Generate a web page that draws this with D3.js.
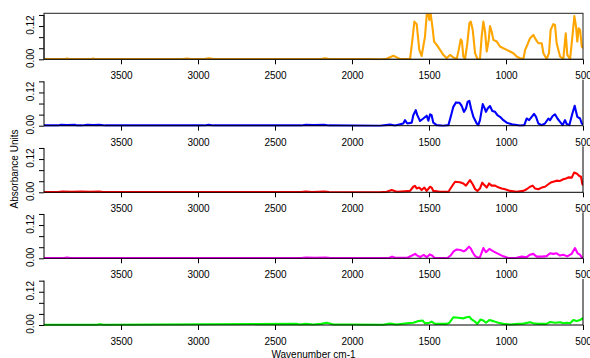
<!DOCTYPE html>
<html lang="en">
<head>
<meta charset="UTF-8">
<title>Absorbance spectra</title>
<script src="https://d3js.org/d3.v7.min.js"></script>
<style>
  body { margin: 0; background: #fff; }
  svg { display: block; font-family: "Liberation Sans", Arial, sans-serif; }
  .tick text { font-size: 10px; fill: #000; }
</style>
</head>
<body>
<svg width="590" height="358"></svg>
<script>
// tick values / labels
const xTicks = [3500, 3000, 2500, 2000, 1500, 1000, 500];
const yTicks = [0, 0.04, 0.08, 0.12, 0.16];
const yLabelled = [0, 0.12];
const colors = ["#ffa500", "#0000ff", "#ff0000", "#ff00ff", "#00ff00"];

// spectra: [wavenumber cm-1, absorbance]
const sample1 = [
  [4000, 0.001], [3860, 0.001], [3850, 0.003], [3840, 0.001], [3690, 0.001], [3680, 0.003], [3670, 0.001],
  [3100, 0.001], [3071, 0.003], [3050, 0.001], [2960, 0.001], [2930, 0.004], [2900, 0.001],
  [2200, 0.001], [2175, 0.004], [2150, 0.001], [1900, 0.001], [1818, 0], [1775, 0.002],
  [1731, 0.013], [1710, 0.007], [1688, 0.001], [1623, 0.001], [1608, 0.07], [1595, 0.136],
  [1580, 0.127], [1563, 0.034], [1548, 0.012], [1526, 0.082], [1515, 0.16], [1504, 0.163],
  [1498, 0.142], [1489, 0.163], [1478, 0.118], [1467, 0.064], [1450, 0.052], [1428, 0.034],
  [1407, 0.016], [1385, 0.004], [1364, 0.016], [1342, 0.007], [1320, 0.001], [1307, 0.034],
  [1294, 0.072], [1286, 0.064], [1277, 0.01], [1266, 0.001], [1251, 0.058], [1238, 0.13],
  [1229, 0.136], [1216, 0.106], [1201, 0.022], [1186, 0.002], [1169, 0.001], [1158, 0.082],
  [1147, 0.136], [1136, 0.1], [1125, 0.028], [1112, 0.07], [1104, 0.12], [1093, 0.1],
  [1082, 0.07], [1060, 0.064], [1039, 0.046], [1017, 0.04], [995, 0.034], [974, 0.028],
  [952, 0.022], [931, 0.01], [909, 0.004], [887, 0.001], [876, 0.034], [866, 0.046],
  [844, 0.076], [822, 0.088], [805, 0.07], [790, 0.058], [768, 0.058], [757, 0.022],
  [736, 0.001], [721, 0.022], [710, 0.106], [693, 0.127], [682, 0.124], [671, 0.058],
  [649, 0.01], [628, 0.001], [612, 0.094], [602, 0.016], [584, 0.001], [569, 0.082],
  [556, 0.156], [545, 0.118], [537, 0.064], [528, 0.112], [519, 0.106], [508, 0.046], [498, 0.04]
];
const sample2 = [
  [4000, 0.001], [3910, 0.001], [3890, 0.003], [3850, 0.002], [3800, 0.003], [3786, 0.001],
  [3753, 0.001], [3720, 0.003], [3680, 0.002], [3640, 0.003], [3604, 0.001], [2960, 0.001],
  [2930, 0.003], [2900, 0.001], [2330, 0.001], [2300, 0.003], [2250, 0.002], [2180, 0.003],
  [2150, 0.001], [1818, 0], [1753, 0.004], [1720, 0.001], [1667, 0.008], [1656, 0.02],
  [1641, 0.008], [1612, 0.011], [1602, 0.038], [1586, 0.056], [1576, 0.038], [1558, 0.017],
  [1537, 0.026], [1515, 0.036], [1504, 0.018], [1493, 0.041], [1483, 0.038], [1472, 0.011],
  [1450, 0.002], [1407, 0], [1374, 0.002], [1359, 0.032], [1342, 0.068], [1325, 0.084],
  [1303, 0.083], [1288, 0.072], [1273, 0.05], [1260, 0.062], [1249, 0.086], [1238, 0.09],
  [1227, 0.062], [1212, 0.032], [1190, 0.008], [1180, 0.002], [1169, 0.02], [1151, 0.078],
  [1141, 0.066], [1130, 0.05], [1119, 0.062], [1104, 0.071], [1089, 0.053], [1071, 0.05],
  [1056, 0.038], [1039, 0.032], [1017, 0.02], [995, 0.011], [963, 0.005], [909, 0.001],
  [881, 0.002], [866, 0.026], [850, 0.02], [833, 0.032], [818, 0.043], [805, 0.032],
  [790, 0.008], [768, 0.002], [747, 0.008], [725, 0.026], [714, 0.02], [697, 0.035],
  [682, 0.041], [666, 0.026], [649, 0.014], [632, 0.002], [617, 0.02], [606, 0.006],
  [589, 0.002], [569, 0.044], [554, 0.072], [545, 0.05], [537, 0.032], [519, 0.026],
  [508, 0.008], [498, 0.005]
];
const sample3 = [
  [4000, 0.001], [3910, 0.001], [3880, 0.003], [3820, 0.002], [3760, 0.003], [3700, 0.002],
  [3640, 0.003], [3617, 0.001], [2330, 0.001], [2300, 0.003], [2260, 0.001], [2180, 0.003],
  [2150, 0.001], [1818, 0], [1775, 0.002], [1742, 0.008], [1710, 0.002], [1656, 0.004],
  [1623, 0.005], [1602, 0.02], [1591, 0.023], [1580, 0.014], [1563, 0.017], [1548, 0.008],
  [1530, 0.017], [1515, 0.005], [1493, 0.02], [1483, 0.017], [1472, 0.005], [1428, 0.002],
  [1374, 0.002], [1353, 0.02], [1331, 0.038], [1299, 0.036], [1277, 0.032], [1260, 0.024],
  [1234, 0.044], [1216, 0.029], [1201, 0.012], [1186, 0.005], [1169, 0.014], [1154, 0.035],
  [1141, 0.026], [1125, 0.017], [1110, 0.032], [1093, 0.024], [1071, 0.024], [1050, 0.018],
  [1028, 0.014], [1006, 0.011], [974, 0.005], [931, 0.002], [887, 0.005], [866, 0.011],
  [844, 0.02], [827, 0.024], [812, 0.014], [790, 0.011], [768, 0.017], [747, 0.02],
  [725, 0.029], [710, 0.035], [693, 0.038], [671, 0.042], [649, 0.041], [628, 0.047],
  [610, 0.05], [595, 0.054], [573, 0.053], [558, 0.071], [541, 0.068], [524, 0.059],
  [513, 0.056], [504, 0.029], [498, 0.026]
];
const sample4 = [
  [4000, 0.001], [3870, 0.001], [3850, 0.003], [3830, 0.001], [2330, 0.001], [2300, 0.003],
  [2240, 0.002], [2170, 0.003], [2140, 0.001], [1800, 0.001], [1760, 0.001], [1740, 0.006],
  [1720, 0.002], [1640, 0.002], [1610, 0.01], [1590, 0.016], [1575, 0.009], [1555, 0.005],
  [1535, 0.012], [1515, 0.004], [1495, 0.014], [1480, 0.01], [1465, 0.002], [1380, 0.001],
  [1360, 0.01], [1340, 0.025], [1320, 0.032], [1295, 0.03], [1275, 0.025], [1260, 0.03],
  [1240, 0.042], [1228, 0.035], [1215, 0.02], [1200, 0.008], [1185, 0.003], [1169, 0.004],
  [1147, 0.037], [1130, 0.022], [1108, 0.034], [1082, 0.025], [1050, 0.016], [1017, 0.007],
  [985, 0.001], [931, 0.002], [898, 0.006], [866, 0.004], [844, 0.013], [823, 0.016],
  [801, 0.006], [768, 0.006], [736, 0.008], [714, 0.018], [693, 0.016], [671, 0.018],
  [649, 0.01], [628, 0.013], [602, 0.007], [574, 0.016], [552, 0.037], [535, 0.018],
  [520, 0.013], [509, 0.004], [498, 0.001]
];
const sample5 = [
  [4000, 0.001], [3660, 0.001], [3636, 0.003], [3610, 0.001], [2360, 0.004], [2338, 0.002],
  [2300, 0.004], [2250, 0.002], [2200, 0.004], [2164, 0.008], [2120, 0.002], [2010, 0.002],
  [1800, 0.001], [1753, 0.005], [1710, 0.002], [1645, 0.006], [1602, 0.008], [1569, 0.014],
  [1541, 0.016], [1526, 0.006], [1498, 0.008], [1483, 0.012], [1461, 0.004], [1385, 0.004],
  [1368, 0.008], [1342, 0.028], [1310, 0.026], [1277, 0.024], [1255, 0.028], [1238, 0.03],
  [1223, 0.02], [1201, 0.012], [1186, 0.004], [1165, 0.02], [1147, 0.016], [1130, 0.008],
  [1108, 0.018], [1082, 0.014], [1050, 0.008], [1017, 0.004], [974, 0.002], [920, 0.004],
  [887, 0.005], [844, 0.01], [823, 0.006], [790, 0.004], [736, 0.004], [714, 0.011],
  [682, 0.008], [649, 0.01], [628, 0.006], [606, 0.008], [584, 0.006], [563, 0.018],
  [541, 0.014], [520, 0.018], [504, 0.024], [498, 0.023]
];
const spectra = [sample1, sample2, sample3, sample4, sample5];

const svg = d3.select("svg");
const left = 44, right = 583;
const zeros = [59.3, 125.7, 192.3, 258.3, 325];
const ph = 46;

const x = d3.scaleLinear().domain([4000, 500]).range([left, right]);

spectra.forEach((data, i) => {
  const z = zeros[i];
  const y = d3.scaleLinear().domain([0, 0.166]).range([z, z - ph]);
  const g = svg.append("g");

  g.append("clipPath").attr("id", "clip" + i)
    .append("rect").attr("x", left).attr("y", z - ph - 1).attr("width", right - left).attr("height", ph + 2);

  g.append("path")
    .datum(data)
    .attr("clip-path", `url(#clip${i})`)
    .attr("fill", "none")
    .attr("stroke", colors[i])
    .attr("stroke-width", 2.1)
    .attr("stroke-linejoin", "round")
    .attr("d", d3.line().x(d => x(d[0])).y(d => y(d[1])));

  // x axis
  const xa = g.append("g").attr("transform", `translate(0,${z})`)
    .call(d3.axisBottom(x).tickValues(xTicks).tickFormat(d3.format("d"))
      .tickSize(5).tickSizeOuter(0).tickPadding(8));
  xa.select(".domain").remove();
  g.append("line").attr("x1", left).attr("x2", right).attr("y1", z).attr("y2", z)
    .attr("stroke", "#000").attr("stroke-width", 1);

  // y axis
  const ya = g.append("g").attr("transform", `translate(${left},0)`)
    .call(d3.axisLeft(y).tickValues(yTicks).tickSize(5).tickFormat(""));
  ya.select(".domain").remove();
  g.append("line").attr("x1", left).attr("x2", left).attr("y1", y(0)).attr("y2", y(0.16))
    .attr("stroke", "#000");
  yLabelled.forEach(v => {
    g.append("text")
      .attr("transform", `translate(33.5,${y(v) - 1}) rotate(-90)`)
      .attr("text-anchor", "middle")
      .attr("font-size", 10)
      .text(d3.format(".2f")(v));
  });

  // frame: full box on the top panel, right edge on the others
  if (i === 0) {
    g.append("rect").attr("x", left).attr("y", z - ph).attr("width", right - left).attr("height", ph)
      .attr("fill", "none").attr("stroke", "#222");
  } else {
    g.append("line").attr("x1", right).attr("x2", right).attr("y1", z - ph).attr("y2", z)
      .attr("stroke", "#000");
  }
});

svg.append("text")
  .attr("transform", "translate(18,169) rotate(-90)")
  .attr("text-anchor", "middle")
  .attr("font-size", 10)
  .text("Absorbance Units");

svg.append("text")
  .attr("x", (left + right) / 2)
  .attr("y", 357.5)
  .attr("text-anchor", "middle")
  .attr("font-size", 10)
  .text("Wavenumber cm-1");
</script>
</body>
</html>
